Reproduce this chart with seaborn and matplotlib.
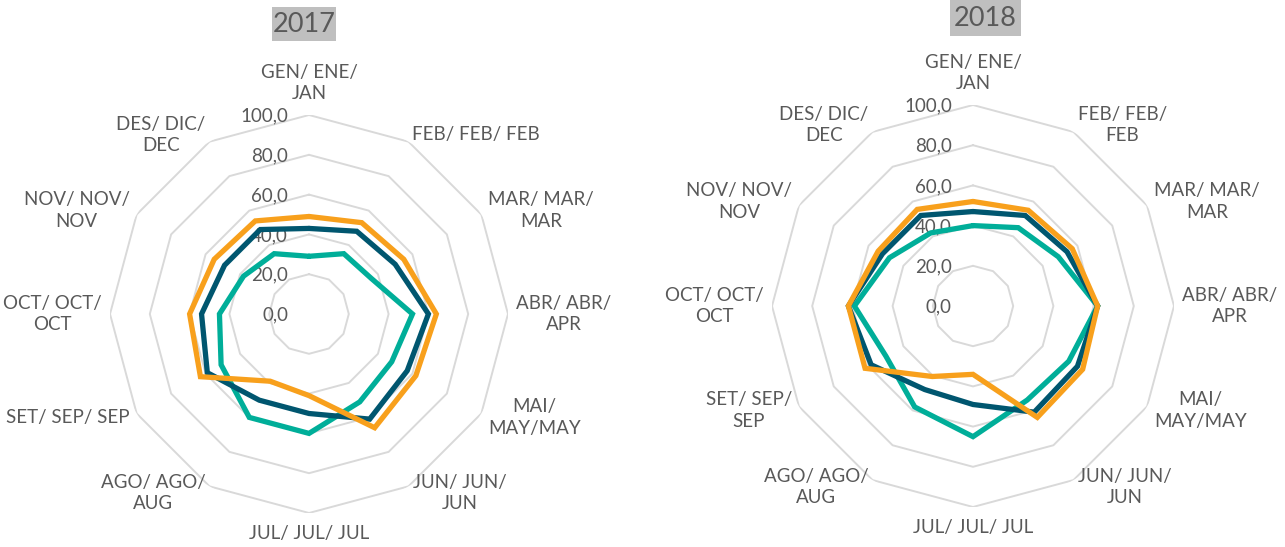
import numpy as np
import pandas as pd
import matplotlib
matplotlib.use("Agg")
import matplotlib.pyplot as plt
from matplotlib.patches import Rectangle
import seaborn as sns

# Month categories (Catalan / Spanish / English)
months = ["GEN/ ENE/ JAN", "FEB/ FEB/ FEB", "MAR/ MAR/ MAR", "ABR/ ABR/ APR",
          "MAI/ MAY/MAY", "JUN/ JUN/ JUN", "JUL/ JUL/ JUL", "AGO/ AGO/ AUG",
          "SET/ SEP/ SEP", "OCT/ OCT/ OCT", "NOV/ NOV/ NOV", "DES/ DIC/ DEC"]

# Category labels as wrapped on each chart
labels_2017 = ["GEN/ ENE/\nJAN", "FEB/ FEB/ FEB", "MAR/ MAR/\nMAR", "ABR/ ABR/\nAPR",
               "MAI/\nMAY/MAY", "JUN/ JUN/\nJUN", "JUL/ JUL/ JUL", "AGO/ AGO/\nAUG",
               "SET/ SEP/ SEP", "OCT/ OCT/\nOCT", "NOV/ NOV/\nNOV", "DES/ DIC/\nDEC"]
labels_2018 = ["GEN/ ENE/\nJAN", "FEB/ FEB/\nFEB", "MAR/ MAR/\nMAR", "ABR/ ABR/\nAPR",
               "MAI/\nMAY/MAY", "JUN/ JUN/\nJUN", "JUL/ JUL/ JUL", "AGO/ AGO/\nAUG",
               "SET/ SEP/\nSEP", "OCT/ OCT/\nOCT", "NOV/ NOV/\nNOV", "DES/ DIC/\nDEC"]

radial_ticks = [0, 20, 40, 60, 80, 100]
radial_tick_labels = ["0,0", "20,0", "40,0", "60,0", "80,0", "100,0"]

# Monthly values per series
teal_2017 = [29, 35, 36, 52, 48, 51, 60, 60, 51, 45, 38, 35]
navy_2017 = [43, 48, 50, 60, 57, 61, 50, 50, 59, 54, 49, 49]
orange_2017 = [49, 53, 55, 64, 62, 66, 41, 39, 63, 60, 55, 54]

teal_2018 = [40, 45, 49, 62, 55, 54, 65, 58, 50, 59, 48, 42]
navy_2018 = [47, 52, 54, 62, 60, 61, 49, 48, 58.5, 62, 52, 52]
orange_2018 = [52, 55, 57, 62, 63, 64, 34, 40.5, 62, 62, 54.5, 55.5]

series_names = ["teal", "navy", "orange"]
palette = {"teal": "#00AE99", "navy": "#00566F", "orange": "#F8A01C"}

TEXT = "#595959"
GRID = "#D9D9D9"

sns.set_theme(style="white")
plt.rcParams["font.family"] = ["Lato", "DejaVu Sans"]

W, H = 1285, 547
fig = plt.figure(figsize=(W / 100, H / 100), dpi=100)


def polar_axes(cx, cy, radius):
    rect = [(cx - radius) / W, (H - cy - radius) / H, 2 * radius / W, 2 * radius / H]
    ax = fig.add_axes(rect, projection="polar")
    ax.set_theta_zero_location("N")
    ax.set_theta_direction(-1)
    ax.set_ylim(0, 100)
    ax.grid(False)
    ax.set_xticks([])
    ax.set_yticks([])
    ax.spines["polar"].set_visible(False)
    ax.patch.set_alpha(0)
    return ax


def radar(ax, values, labels):
    n = len(months)
    theta = np.linspace(0, 2 * np.pi, n, endpoint=False)
    closed = np.append(theta, 2 * np.pi)

    # polygonal grid rings
    for r in radial_ticks[1:]:
        ax.plot(closed, [r] * (n + 1), color=GRID, lw=1.4, zorder=1)

    rows = []
    for name, vals in zip(series_names, values):
        vv = list(vals) + [vals[0]]
        for t, v in zip(closed, vv):
            rows.append({"theta": t, "value": v, "series": name})
    df = pd.DataFrame(rows)
    sns.lineplot(data=df, x="theta", y="value", hue="series", hue_order=series_names,
                 palette=palette, sort=False, estimator=None, lw=3.8,
                 legend=False, ax=ax, solid_joinstyle="miter", zorder=3)
    ax.set_xlabel("")
    ax.set_ylabel("")
    ax.set_ylim(0, 100)
    ax.set_xticks([])
    ax.set_yticks([])

    # radial value labels along the top axis
    for r, lab in zip(radial_ticks, radial_tick_labels):
        ax.annotate(lab, xy=(0, r), xytext=(-21, -1), textcoords="offset pixels",
                    ha="right", va="center", fontsize=13.5, color=TEXT, zorder=2)

    # category labels outside the outer ring
    for t, lab in zip(theta, labels):
        s, c = np.sin(t), np.cos(t)
        if abs(s) < 0.1:
            ha = "center"
        elif s > 0:
            ha = "left"
        else:
            ha = "right"
        if c > 0.9:
            va, off = "bottom", 13
        elif c < -0.9:
            va, off = "top", 12
        else:
            va, off = "center", 8
        ax.annotate(lab, xy=(t, 100), xytext=(off * s, off * c), textcoords="offset pixels",
                    ha=ha, va=va, multialignment="center", fontsize=13.5, color=TEXT,
                    linespacing=1.3, annotation_clip=False)


ax1 = polar_axes(309, 314, 199)
radar(ax1, [teal_2017, navy_2017, orange_2017], labels_2017)

ax2 = polar_axes(973, 306, 201)
radar(ax2, [teal_2018, navy_2018, orange_2018], labels_2018)


def title_box(text, x0, y0, x1, y1):
    fig.patches.append(Rectangle((x0 / W, 1 - y1 / H), (x1 - x0) / W, (y1 - y0) / H,
                                 transform=fig.transFigure, facecolor="#BFBFBF",
                                 edgecolor="none", zorder=0))
    fig.text((x0 + x1) / 2 / W, 1 - (y0 + y1) / 2 / H, text, ha="center", va="center",
             fontsize=19.5, color=TEXT)


title_box("2017", 272, 7, 336, 41)
title_box("2018", 950, 0, 1021, 36)

fig.savefig("out.png", dpi=100)
